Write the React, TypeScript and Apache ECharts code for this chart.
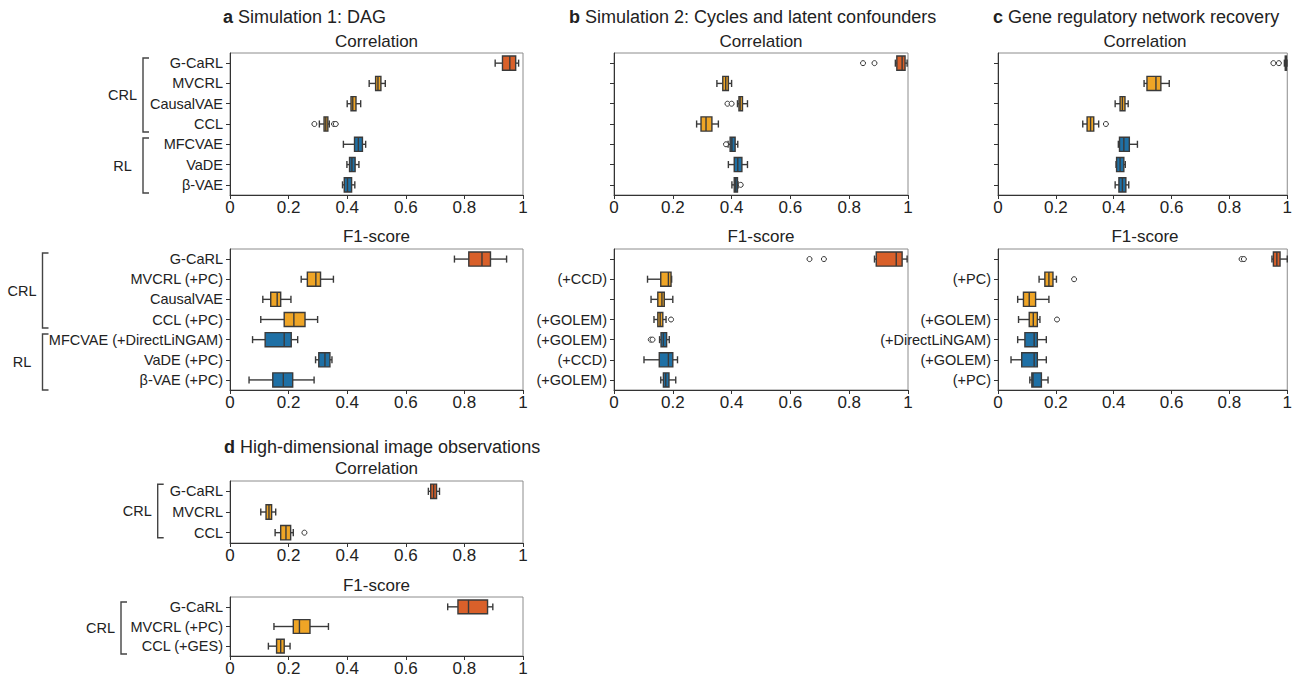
import React, { useEffect, useRef } from 'react';
import * as echarts from 'echarts';

const FONT = '"Liberation Sans", Arial, Helvetica, sans-serif';
const TEXT = '#222222';
const EDGE = '#3a3a3a';
const GROUP_COLORS = ['#D9602A', '#EFA526', '#1F70A5'];

// ---------- categories / tick labels ----------
const dagCorrLabels = ['G-CaRL', 'MVCRL', 'CausalVAE', 'CCL', 'MFCVAE', 'VaDE', 'β-VAE'];
const dagF1Labels = ['G-CaRL', 'MVCRL (+PC)', 'CausalVAE', 'CCL (+PC)', 'MFCVAE (+DirectLiNGAM)', 'VaDE (+PC)', 'β-VAE (+PC)'];
const cycCorrLabels = ['', '', '', '', '', '', ''];
const cycF1Labels = ['', '(+CCD)', '', '(+GOLEM)', '(+GOLEM)', '(+CCD)', '(+GOLEM)'];
const grnCorrLabels = ['', '', '', '', '', '', ''];
const grnF1Labels = ['', '(+PC)', '', '(+GOLEM)', '(+DirectLiNGAM)', '(+GOLEM)', '(+PC)'];
const imgCorrLabels = ['G-CaRL', 'MVCRL', 'CCL'];
const imgF1Labels = ['G-CaRL', 'MVCRL (+PC)', 'CCL (+GES)'];
const xTickValues = [0, 0.2, 0.4, 0.6, 0.8, 1];

// colour group per row: 0 = G-CaRL, 1 = CRL, 2 = RL
const groups7 = [0, 1, 1, 1, 2, 2, 2];
const groups3 = [0, 1, 1];

// ---------- box statistics: [low whisker, Q1, median, Q3, high whisker] ----------
const dagCorrStats = [
  [0.905, 0.93, 0.955, 0.975, 0.985],
  [0.475, 0.497, 0.505, 0.515, 0.53],
  [0.4, 0.413, 0.419, 0.43, 0.446],
  [0.305, 0.321, 0.327, 0.334, 0.339],
  [0.387, 0.425, 0.438, 0.452, 0.463],
  [0.399, 0.408, 0.416, 0.427, 0.44],
  [0.384, 0.39, 0.401, 0.415, 0.426],
];
const dagCorrOutliers = [[3, 0.288], [3, 0.355], [3, 0.361]];

const dagF1Stats = [
  [0.766, 0.815, 0.86, 0.889, 0.944],
  [0.243, 0.264, 0.293, 0.309, 0.353],
  [0.112, 0.139, 0.161, 0.173, 0.208],
  [0.105, 0.185, 0.218, 0.256, 0.299],
  [0.077, 0.12, 0.185, 0.209, 0.231],
  [0.292, 0.303, 0.324, 0.341, 0.348],
  [0.065, 0.146, 0.182, 0.214, 0.287],
];
const dagF1Outliers: number[][] = [];

const cycCorrStats = [
  [0.957, 0.962, 0.98, 0.99, 0.997],
  [0.35, 0.37, 0.38, 0.389, 0.4],
  [0.42, 0.425, 0.429, 0.437, 0.454],
  [0.281, 0.296, 0.313, 0.333, 0.355],
  [0.388, 0.395, 0.401, 0.412, 0.421],
  [0.389, 0.409, 0.421, 0.435, 0.454],
  [0.401, 0.409, 0.414, 0.42, 0.422],
];
const cycCorrOutliers = [[0, 0.847], [0, 0.886], [2, 0.386], [2, 0.4], [4, 0.381], [6, 0.431]];

const cycF1Stats = [
  [0.886, 0.892, 0.96, 0.98, 0.997],
  [0.114, 0.159, 0.185, 0.194, 0.196],
  [0.126, 0.149, 0.163, 0.171, 0.2],
  [0.136, 0.149, 0.157, 0.166, 0.177],
  [0.155, 0.16, 0.168, 0.179, 0.188],
  [0.102, 0.154, 0.185, 0.2, 0.216],
  [0.159, 0.168, 0.176, 0.187, 0.21],
];
const cycF1Outliers = [[0, 0.665], [0, 0.714], [3, 0.194], [4, 0.125], [4, 0.131]];

const grnCorrStats = [
  [0.99, 0.993, 0.995, 0.997, 0.999],
  [0.505, 0.515, 0.546, 0.563, 0.592],
  [0.405, 0.422, 0.43, 0.439, 0.45],
  [0.293, 0.308, 0.32, 0.331, 0.348],
  [0.416, 0.42, 0.435, 0.454, 0.482],
  [0.408, 0.41, 0.422, 0.435, 0.44],
  [0.405, 0.418, 0.43, 0.442, 0.452],
];
const grnCorrOutliers = [[0, 0.952], [0, 0.971], [3, 0.373]];

const grnF1Stats = [
  [0.947, 0.952, 0.964, 0.975, 1.0],
  [0.142, 0.162, 0.176, 0.19, 0.202],
  [0.068, 0.088, 0.108, 0.13, 0.176],
  [0.071, 0.108, 0.122, 0.136, 0.145],
  [0.068, 0.093, 0.125, 0.136, 0.167],
  [0.045, 0.082, 0.125, 0.136, 0.167],
  [0.11, 0.117, 0.121, 0.15, 0.173],
];
const grnF1Outliers = [[0, 0.842], [0, 0.85], [1, 0.263], [3, 0.204]];

const imgCorrStats = [
  [0.677, 0.685, 0.695, 0.705, 0.715],
  [0.105, 0.123, 0.133, 0.142, 0.156],
  [0.154, 0.173, 0.191, 0.207, 0.216],
];
const imgCorrOutliers = [[2, 0.254]];

const imgF1Stats = [
  [0.743, 0.778, 0.814, 0.879, 0.897],
  [0.15, 0.216, 0.237, 0.273, 0.336],
  [0.131, 0.159, 0.173, 0.185, 0.205],
];
const imgF1Outliers: number[][] = [];

// ---------- panel layout ----------
const panels = [
  { left: 230, top: 53, width: 293, height: 142, labels: dagCorrLabels, stats: dagCorrStats, outliers: dagCorrOutliers, groups: groups7, sub: 'Correlation', subY: 41.7 },
  { left: 230, top: 249, width: 293, height: 141, labels: dagF1Labels, stats: dagF1Stats, outliers: dagF1Outliers, groups: groups7, sub: 'F1-score', subY: 236 },
  { left: 614, top: 53, width: 294, height: 142, labels: cycCorrLabels, stats: cycCorrStats, outliers: cycCorrOutliers, groups: groups7, sub: 'Correlation', subY: 41.7 },
  { left: 614, top: 249, width: 294, height: 141, labels: cycF1Labels, stats: cycF1Stats, outliers: cycF1Outliers, groups: groups7, sub: 'F1-score', subY: 236 },
  { left: 998, top: 53, width: 294, height: 142, labels: grnCorrLabels, stats: grnCorrStats, outliers: grnCorrOutliers, groups: groups7, sub: 'Correlation', subY: 41.7 },
  { left: 998, top: 249, width: 294, height: 141, labels: grnF1Labels, stats: grnF1Stats, outliers: grnF1Outliers, groups: groups7, sub: 'F1-score', subY: 236 },
  { left: 230, top: 481, width: 293, height: 62, labels: imgCorrLabels, stats: imgCorrStats, outliers: imgCorrOutliers, groups: groups3, sub: 'Correlation', subY: 468 },
  { left: 230, top: 597, width: 293, height: 61, labels: imgF1Labels, stats: imgF1Stats, outliers: imgF1Outliers, groups: groups3, sub: 'F1-score', subY: 585.7 },
];

const panelTitles = [
  { letter: 'a', text: ' Simulation 1: DAG', x: 223, y: 16.7 },
  { letter: 'b', text: ' Simulation 2: Cycles and latent confounders', x: 569, y: 16.7 },
  { letter: 'c', text: ' Gene regulatory network recovery', x: 993, y: 16.7 },
  { letter: 'd', text: ' High-dimensional image observations', x: 224, y: 446.7 },
];

const brackets = [
  { label: 'CRL', x: 143, top: 58, bottom: 132 },
  { label: 'RL', x: 143, top: 138, bottom: 193 },
  { label: 'CRL', x: 42.5, top: 253, bottom: 328 },
  { label: 'RL', x: 42.5, top: 334, bottom: 390 },
  { label: 'CRL', x: 157.7, top: 484.3, bottom: 537.7 },
  { label: 'CRL', x: 121, top: 602, bottom: 654 },
];

function renderBox(params: any, api: any) {
  const cat = api.value(0);
  const pLow = api.coord([api.value(1), cat]);
  const pQ1 = api.coord([api.value(2), cat]);
  const pMed = api.coord([api.value(3), cat]);
  const pQ3 = api.coord([api.value(4), cat]);
  const pHigh = api.coord([api.value(5), cat]);
  const band = api.size([0, 1])[1];
  const h = band * 0.7;
  const y = pLow[1];
  const color = GROUP_COLORS[api.value(6)];
  const ls = { stroke: EDGE, lineWidth: 1.4 };
  return {
    type: 'group',
    children: [
      { type: 'line', shape: { x1: pLow[0], y1: y, x2: pQ1[0], y2: y }, style: ls },
      { type: 'line', shape: { x1: pQ3[0], y1: y, x2: pHigh[0], y2: y }, style: ls },
      { type: 'line', shape: { x1: pLow[0], y1: y - h / 4, x2: pLow[0], y2: y + h / 4 }, style: ls },
      { type: 'line', shape: { x1: pHigh[0], y1: y - h / 4, x2: pHigh[0], y2: y + h / 4 }, style: ls },
      { type: 'rect', shape: { x: pQ1[0], y: y - h / 2, width: Math.max(pQ3[0] - pQ1[0], 1), height: h }, style: { fill: color, stroke: EDGE, lineWidth: 1.4 } },
      { type: 'line', shape: { x1: pMed[0], y1: y - h / 2, x2: pMed[0], y2: y + h / 2 }, style: ls },
    ],
  };
}

function buildOption() {
  const grid = panels.map((p) => ({
    left: p.left, top: p.top, width: p.width, height: p.height,
    show: true, borderColor: '#8c8c8c', borderWidth: 1, backgroundColor: 'transparent',
  }));
  const xAxis = panels.map((p, i) => ({
    type: 'value', gridIndex: i, min: xTickValues[0], max: xTickValues[xTickValues.length - 1], interval: 0.2,
    splitLine: { show: false },
    axisLine: { show: true, onZero: false, lineStyle: { color: '#333', width: 1 } },
    axisTick: { show: true, length: 4, lineStyle: { color: '#333' } },
    axisLabel: {
      margin: 4, fontSize: 17, color: TEXT, fontFamily: FONT,
      formatter: (v: number) => (Math.abs(v) < 1e-9 ? '0' : Math.abs(v - 1) < 1e-9 ? '1' : v.toFixed(1)),
    },
  }));
  const yAxis = panels.map((p, i) => ({
    type: 'category', gridIndex: i, inverse: true,
    data: p.labels.map((_, k) => String(k)),
    axisLine: { show: true, onZero: false, lineStyle: { color: '#333', width: 1 } },
    axisTick: { show: true, alignWithLabel: true, length: 4, lineStyle: { color: '#333' } },
    axisLabel: {
      margin: 7, fontSize: 14.5, color: TEXT, fontFamily: FONT, interval: 0,
      formatter: (v: string) => p.labels[Number(v)],
    },
    splitLine: { show: false },
  }));
  const series: any[] = [];
  panels.forEach((p, i) => {
    series.push({
      type: 'custom', xAxisIndex: i, yAxisIndex: i, silent: true, clip: false,
      data: p.stats.map((s, k) => [k, s[0], s[1], s[2], s[3], s[4], p.groups[k]]),
      encode: { x: [1, 2, 3, 4, 5], y: 0 },
      renderItem: renderBox,
      z: 2,
    });
    if (p.outliers.length) {
      series.push({
        type: 'scatter', xAxisIndex: i, yAxisIndex: i, silent: true,
        data: p.outliers.map(([k, v]) => [v, k]),
        symbol: 'circle', symbolSize: 5,
        itemStyle: { color: '#ffffff', borderColor: '#333', borderWidth: 1, opacity: 1 },
        z: 3,
      });
    }
  });

  const graphic: any[] = [];
  panelTitles.forEach((t) => {
    graphic.push({
      type: 'text', x: t.x, y: t.y,
      style: {
        text: `{b|${t.letter}}${t.text}`,
        fontSize: 18, fontFamily: FONT, fill: TEXT,
        align: 'left', verticalAlign: 'middle',
        rich: { b: { fontWeight: 'bold', fontSize: 18, fontFamily: FONT, fill: TEXT } },
      },
    });
  });
  panels.forEach((p) => {
    graphic.push({
      type: 'text', x: p.left + p.width / 2, y: p.subY,
      style: { text: p.sub, fontSize: 17, fontFamily: FONT, fill: TEXT, align: 'center', verticalAlign: 'middle' },
    });
  });
  brackets.forEach((b) => {
    graphic.push({
      type: 'polyline',
      shape: { points: [[b.x + 6, b.top], [b.x, b.top], [b.x, b.bottom], [b.x + 6, b.bottom]] },
      style: { stroke: '#444', lineWidth: 1.4, fill: null },
    });
    graphic.push({
      type: 'text', x: b.x - 20.5, y: (b.top + b.bottom) / 2,
      style: { text: b.label, fontSize: 14.5, fontFamily: FONT, fill: TEXT, align: 'center', verticalAlign: 'middle' },
    });
  });

  return {
    animation: false,
    backgroundColor: '#ffffff',
    textStyle: { fontFamily: FONT },
    grid, xAxis, yAxis, series, graphic,
  };
}

export default function App() {
  const ref = useRef<HTMLDivElement>(null);
  useEffect(() => {
    if (!ref.current) return;
    const chart = echarts.init(ref.current, undefined, { renderer: 'svg' });
    chart.setOption(buildOption() as any);
    return () => chart.dispose();
  }, []);
  return <div ref={ref} style={{ position: 'fixed', left: 0, top: 0, width: 1295, height: 677 }} />;
}
